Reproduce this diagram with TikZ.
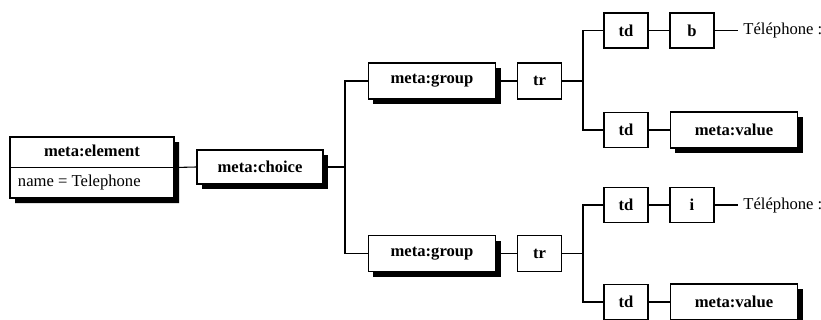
\documentclass[tikz,border=0pt]{standalone}
\usepackage{fontspec}
\setmainfont{Liberation Serif}
\usetikzlibrary{shapes.multipart,shadows}

\begin{document}
\begin{tikzpicture}[x=0.65pt,y=-0.65pt]
	\tikzstyle{every node}+=[font=\fontsize{10.8}{12.2}\selectfont]
	\tikzstyle{box}=[draw, fill=white, line width=0.8pt, inner sep=2pt, font=\fontsize{10.8}{12.2}\selectfont\bfseries]
	\tikzstyle{metabox}=[box, minimum width=83pt, minimum height=23.4pt, drop shadow={shadow xshift=3.3pt, shadow yshift=-3.3pt, fill=black, opacity=1}]
	\tikzstyle{tagbox}=[box, minimum width=28.5pt, minimum height=22.8pt]
	\tikzstyle{link}=[line width=0.7pt]
	\useasboundingbox (0,0) rectangle (821,320);
	\node [metabox, rectangle split, rectangle split parts=2, rectangle split part align={center,left}, minimum width=106.6pt, minimum height=0pt, inner xsep=5.2pt, inner ysep=3.4pt] (element) at (92,167.5) {\bfseries\strut meta:element\nodepart{two}\mdseries\strut name = Telephone};
	\node [metabox, minimum width=82pt, minimum height=22.2pt] (choice) at (260,167) {meta:choice};
	\node [metabox] (group1) at (432,81) {meta:group};
	\node [tagbox, minimum height=23.4pt] (tr1) at (539.5,81) {tr};
	\node [tagbox] (td11) at (626,30.5) {td};
	\node [tagbox] (b) at (692,30.5) {b};
	\node [anchor=west] (tel1) at (738,30.5) {Téléphone :};
	\node [tagbox] (td12) at (626,130) {td};
	\node [metabox] (value1) at (734,130) {meta:value};
	\node [metabox] (group2) at (432,253.5) {meta:group};
	\node [tagbox, minimum height=23.4pt] (tr2) at (539.5,253.5) {tr};
	\node [tagbox] (td21) at (626,205) {td};
	\node [tagbox] (i) at (692,205) {i};
	\node [anchor=west] (tel2) at (738,205) {Téléphone :};
	\node [tagbox] (td22) at (626,302) {td};
	\node [metabox] (value2) at (734,302) {meta:value};
	\coordinate (bus1) at (345,167);
	\coordinate (bus2) at (583,81);
	\coordinate (bus3) at (583,253.5);
	\draw [link] (element.east) -- (choice.west);
	\draw [link] (choice.east) -- (bus1);
	\draw [link] (group1.west) -| (bus1) |- (group2.west);
	\draw [link] (group1) -- (tr1);
	\draw [link] (group2) -- (tr2);
	\draw [link] (tr1.east) -- (bus2);
	\draw [link] (tr2.east) -- (bus3);
	\draw [link] (td11.west) -| (bus2) |- (td12.west);
	\draw [link] (td21.west) -| (bus3) |- (td22.west);
	\draw [link] (td11) -- (b);
	\draw [link] (b) -- (tel1);
	\draw [link] (td12) -- (value1);
	\draw [link] (td21) -- (i);
	\draw [link] (i) -- (tel2);
	\draw [link] (td22) -- (value2);
\end{tikzpicture}
\end{document}
